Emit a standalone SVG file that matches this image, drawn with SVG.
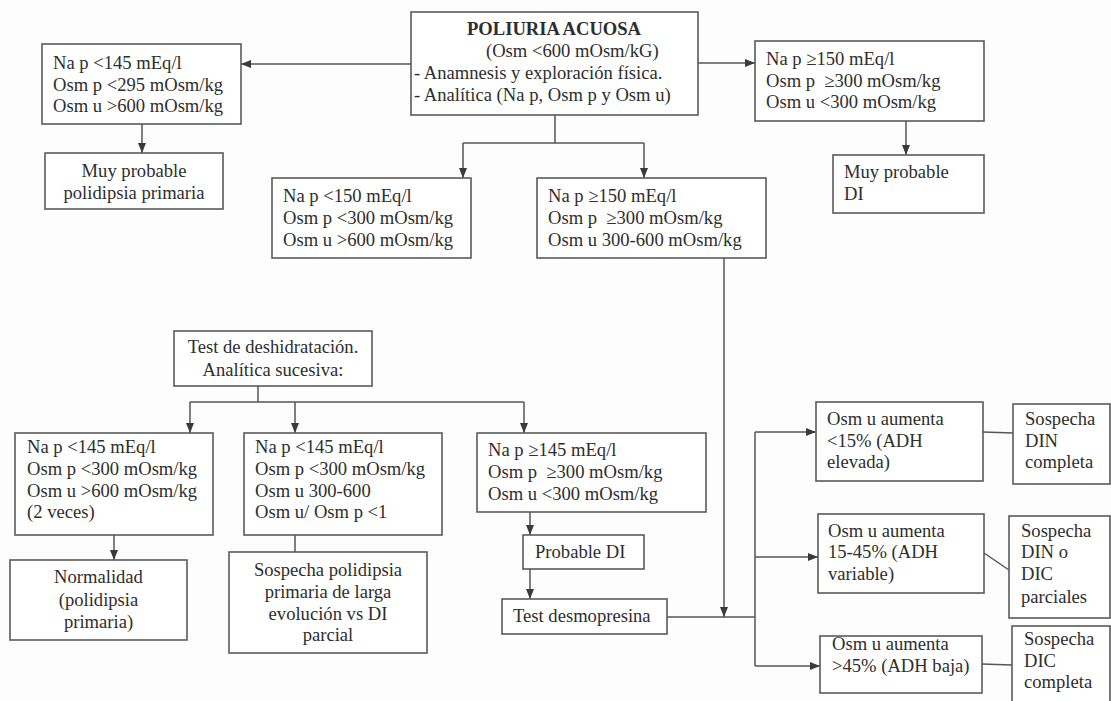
<svg xmlns="http://www.w3.org/2000/svg" width="1111" height="701" viewBox="0 0 1111 701">
<defs>
<marker id="ah" markerWidth="10" markerHeight="10" viewBox="0 0 10 10" refX="10" refY="5" orient="auto" markerUnits="userSpaceOnUse">
<path d="M0,1 L10,5 L0,9 Z" fill="#3a3a3a"/>
</marker>
<style>
rect{fill:#fff;stroke:#5a5a5a;stroke-width:1.6}
text{font-family:"Liberation Serif","Times New Roman",serif;font-size:18.6px;fill:#2e2e2e}
.c{text-anchor:middle}
.b{font-weight:bold}
#connectors path{fill:none;stroke:#555;stroke-width:1.5}
.a{marker-end:url(#ah)}
</style>
</defs>
<rect x="0" y="0" width="1111" height="701" style="fill:#fdfdfd;stroke:none"/>

<g id="connectors">
<path class="a" d="M411,64 H241"/>
<path class="a" d="M698,63 H755"/>
<path class="a" d="M142,124 V153"/>
<path class="a" d="M906,121 V155"/>
<path d="M555,115 V143 M463,143 H644"/>
<path class="a" d="M463,143 V178"/>
<path class="a" d="M644,143 V178"/>
<path class="a" d="M724,258 V617"/>
<path d="M667,617 H755 M755,432 V666"/>
<path class="a" d="M755,432 H816"/>
<path class="a" d="M755,557 H818"/>
<path class="a" d="M755,666 H820"/>
<path d="M983,432 L1013,433"/>
<path d="M984,553 L1009,570"/>
<path d="M982,664 L1012,665"/>
<path d="M258,386 V402 M190,402 H524"/>
<path class="a" d="M190,402 V433"/>
<path class="a" d="M295,402 V433"/>
<path class="a" d="M524,402 V433"/>
<path class="a" d="M114,535 V560"/>
<path d="M295,535 V552"/>
<path class="a" d="M530,512 V535"/>
<path class="a" d="M530,569 V599"/>
</g>

<g id="n-main">
<rect x="411" y="12" width="287" height="103"/>
<text x="554" y="35" class="c b">POLIURIA ACUOSA</text>
<text x="486" y="57">(Osm &lt;600 mOsm/kG)</text>
<text x="414" y="79">- Anamnesis y exploración física.</text>
<text x="414" y="101">- Analítica (Na p, Osm p y Osm u)</text>
</g>

<g id="n-left">
<rect x="42" y="44" width="199" height="80"/>
<text x="53" y="69">Na p &lt;145 mEq/l</text>
<text x="53" y="90.5">Osm p &lt;295 mOsm/kg</text>
<text x="53" y="112">Osm u &gt;600 mOsm/kg</text>
</g>

<g id="n-polidipsia">
<rect x="45" y="153" width="178" height="56"/>
<text x="134" y="177" class="c">Muy probable</text>
<text x="134" y="199" class="c">polidipsia primaria</text>
</g>

<g id="n-right">
<rect x="755" y="41" width="229" height="80"/>
<text x="766" y="65">Na p ≥150 mEq/l</text>
<text x="766" y="86.5">Osm p &#160;≥300 mOsm/kg</text>
<text x="766" y="108">Osm u &lt;300 mOsm/kg</text>
</g>

<g id="n-di">
<rect x="833" y="155" width="151" height="58"/>
<text x="844" y="178">Muy probable</text>
<text x="844" y="200">DI</text>
</g>

<g id="n-mid1">
<rect x="272" y="178" width="199" height="80"/>
<text x="283" y="202">Na p &lt;150 mEq/l</text>
<text x="283" y="224">Osm p &lt;300 mOsm/kg</text>
<text x="283" y="246">Osm u &gt;600 mOsm/kg</text>
</g>

<g id="n-mid2">
<rect x="537" y="178" width="229" height="80"/>
<text x="548" y="202">Na p ≥150 mEq/l</text>
<text x="548" y="224">Osm p &#160;≥300 mOsm/kg</text>
<text x="548" y="246">Osm u 300-600 mOsm/kg</text>
</g>

<g id="n-test">
<rect x="174" y="331" width="198" height="55"/>
<text x="273" y="353" class="c">Test de deshidratación.</text>
<text x="273" y="376" class="c">Analítica sucesiva:</text>
</g>

<g id="n-b1">
<rect x="15" y="433" width="198" height="102"/>
<text x="27" y="453">Na p &lt;145 mEq/l</text>
<text x="27" y="475">Osm p &lt;300 mOsm/kg</text>
<text x="27" y="497">Osm u &gt;600 mOsm/kg</text>
<text x="27" y="518">(2 veces)</text>
</g>

<g id="n-normal">
<rect x="10" y="560" width="177" height="80"/>
<text x="98.5" y="583" class="c">Normalidad</text>
<text x="98.5" y="606" class="c">(polidipsia</text>
<text x="98.5" y="628" class="c">primaria)</text>
</g>

<g id="n-b2">
<rect x="244" y="433" width="198" height="102"/>
<text x="255" y="453">Na p &lt;145 mEq/l</text>
<text x="255" y="475">Osm p &lt;300 mOsm/kg</text>
<text x="255" y="497">Osm u 300-600</text>
<text x="255" y="518">Osm u/ Osm p &lt;1</text>
</g>

<g id="n-sospecha-pp">
<rect x="229" y="552" width="198" height="101"/>
<text x="328" y="576" class="c">Sospecha polidipsia</text>
<text x="328" y="598" class="c">primaria de larga</text>
<text x="328" y="620" class="c">evolución vs DI</text>
<text x="328" y="641" class="c">parcial</text>
</g>

<g id="n-b3">
<rect x="477" y="433" width="229" height="79"/>
<text x="488" y="456">Na p ≥145 mEq/l</text>
<text x="488" y="478">Osm p &#160;≥300 mOsm/kg</text>
<text x="488" y="500">Osm u &lt;300 mOsm/kg</text>
</g>

<g id="n-probdi">
<rect x="523" y="535" width="121" height="34"/>
<text x="535" y="558">Probable DI</text>
</g>

<g id="n-desmo">
<rect x="502" y="599" width="165" height="35"/>
<text x="513" y="622">Test desmopresina</text>
</g>

<g id="n-r1">
<rect x="816" y="402" width="167" height="79"/>
<text x="827" y="425">Osm u aumenta</text>
<text x="827" y="447">&lt;15% (ADH</text>
<text x="827" y="468">elevada)</text>
</g>

<g id="n-r2">
<rect x="818" y="514" width="166" height="79"/>
<text x="828" y="537">Osm u aumenta</text>
<text x="828" y="558">15-45% (ADH</text>
<text x="828" y="580">variable)</text>
</g>

<g id="n-r3">
<rect x="820" y="636" width="162" height="57"/>
<text x="832" y="650">Osm u aumenta</text>
<text x="832" y="672">&gt;45% (ADH baja)</text>
</g>

<g id="n-s1">
<rect x="1013" y="404" width="97" height="80"/>
<text x="1025" y="425">Sospecha</text>
<text x="1025" y="447">DIN</text>
<text x="1025" y="468">completa</text>
</g>

<g id="n-s2">
<rect x="1009" y="516" width="101" height="102"/>
<text x="1021" y="537">Sospecha</text>
<text x="1021" y="558">DIN o</text>
<text x="1021" y="580">DIC</text>
<text x="1021" y="603">parciales</text>
</g>

<g id="n-s3">
<rect x="1012" y="626" width="98" height="90"/>
<text x="1024" y="645">Sospecha</text>
<text x="1024" y="667">DIC</text>
<text x="1024" y="688">completa</text>
</g>
</svg>
